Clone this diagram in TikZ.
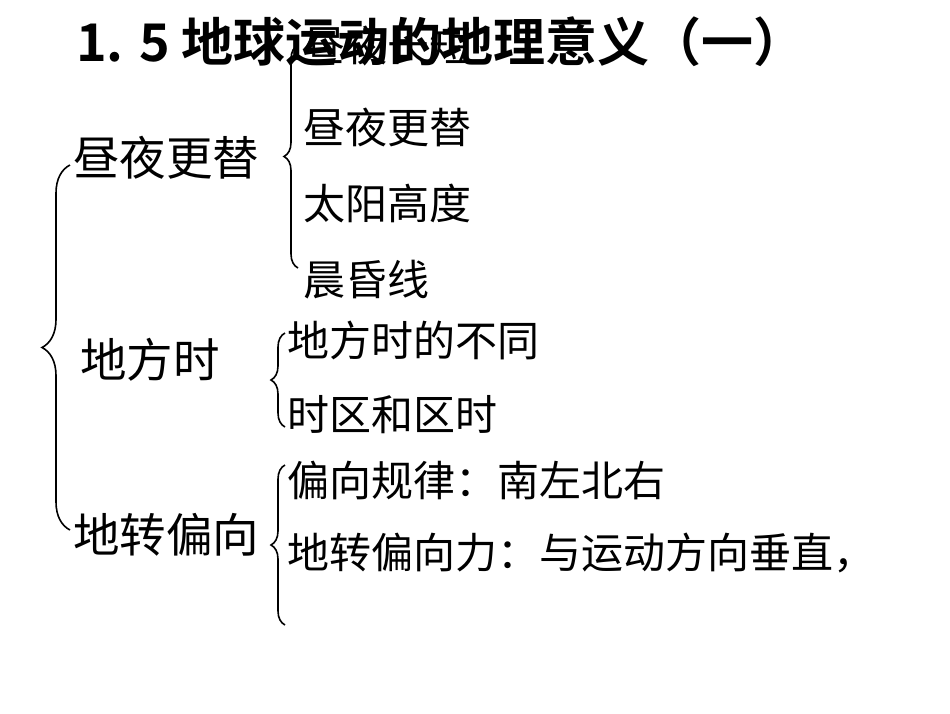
\documentclass[tikz,border=0pt]{standalone}
\usepackage{fontspec}
\setmainfont{Noto Sans CJK SC}
\newfontfamily\cjkb{Noto Sans CJK SC Bold}
\usetikzlibrary{decorations.pathreplacing}
\begin{document}
\begin{tikzpicture}[x=1pt,y=-1pt,
  big/.style={font=\fontsize{46.5}{46.5}\selectfont,inner sep=0pt,anchor=west},
  item/.style={font=\fontsize{42}{42}\selectfont,inner sep=0pt,anchor=west},
  br/.style={draw,line width=1.6pt,decorate,decoration={brace,amplitude=#1}}]
\useasboundingbox (0,0) rectangle (950,713);
\fill[white] (0,0) rectangle (950,713);
\node[item] (h) at (303,45) {昼夜长短};
\node[font=\cjkb\fontsize{52}{52}\selectfont,inner sep=0pt,anchor=west] (t) at (76,42) {1. 5 地球运动的地理意义（一）};
\node[big] (a) at (73,158) {昼夜更替};
\node[big] (b) at (80,360) {地方时};
\node[big] (c) at (73,535) {地转偏向};
\node[item] (a1) at (303,127) {昼夜更替};
\node[item] (a2) at (303,203) {太阳高度};
\node[item] (a3) at (303,280) {晨昏线};
\node[item] (b1) at (287,340) {地方时的不同};
\node[item] (b2) at (287,415) {时区和区时};
\node[item] (c1) at (287,480) {偏向规律：南左北右};
\node[item] (c2) at (287,553) {地转偏向力：与运动方向垂直，};
\coordinate (B0a) at (70,530); \coordinate (B0b) at (70,165);
\draw[br=28pt] (B0a) -- (B0b);
\coordinate (B1a) at (298,268); \coordinate (B1b) at (298,45);
\draw[br=14pt] (B1a) -- (B1b);
\coordinate (B2a) at (285,427); \coordinate (B2b) at (285,333);
\draw[br=14pt] (B2a) -- (B2b);
\coordinate (B3a) at (285,625); \coordinate (B3b) at (285,465);
\draw[br=14pt] (B3a) -- (B3b);
\end{tikzpicture}
\end{document}
